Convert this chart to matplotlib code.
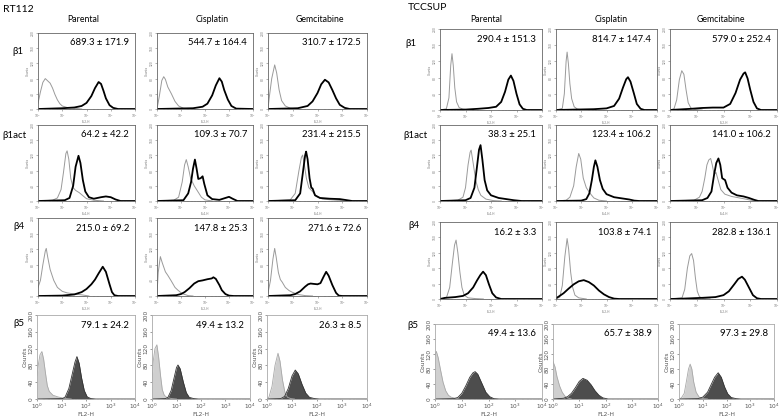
import numpy as np
import matplotlib
matplotlib.use("Agg")
import matplotlib.pyplot as plt
from matplotlib.ticker import LogLocator, NullFormatter, FixedLocator

# ---- labels ----
row_names = ["β1", "β1act", "β4", "β5"]
treatments = ["Parental", "Cisplatin", "Gemcitabine"]
x_names = ["FL2-H", "FL4-H", "FL2-H", "FL2-H"]
y_ticks = [0, 40, 80, 120, 160, 200]

rt112_stats = [
    ["689.3 ± 171.9", "544.7 ± 164.4", "310.7 ± 172.5"],
    ["64.2 ± 42.2", "109.3 ± 70.7", "231.4 ± 215.5"],
    ["215.0 ± 69.2", "147.8 ± 25.3", "271.6 ± 72.6"],
    ["79.1 ± 24.2", "49.4 ± 13.2", "26.3 ± 8.5"],
]
tccsup_stats = [
    ["290.4 ± 151.3", "814.7 ± 147.4", "579.0 ± 252.4"],
    ["38.3 ± 25.1", "123.4 ± 106.2", "141.0 ± 106.2"],
    ["16.2 ± 3.3", "103.8 ± 74.1", "282.8 ± 136.1"],
    ["49.4 ± 13.6", "65.7 ± 38.9", "97.3 ± 29.8"],
]

# ---- histogram outlines: (log10 FL, counts) ----
# RT112
rt112_b1_ctrl = [
    [(0, 15), (0.1, 45), (0.2, 70), (0.3, 80), (0.4, 74), (0.5, 68), (0.6, 55), (0.7, 38), (0.8, 24), (0.9, 14), (1.0, 8), (1.2, 4), (1.5, 2), (1.8, 0)],
    [(0, 0), (0.1, 35), (0.2, 75), (0.28, 85), (0.35, 78), (0.45, 58), (0.6, 40), (0.75, 20), (0.9, 8), (1.1, 2), (1.4, 0)],
    [(0, 0), (0.05, 30), (0.15, 80), (0.27, 116), (0.35, 95), (0.45, 50), (0.55, 22), (0.7, 8), (0.9, 2), (1.2, 0)],
]
rt112_b1_stain = [
    [(0, 0), (1.0, 2), (1.5, 4), (1.8, 8), (2.0, 16), (2.2, 34), (2.35, 55), (2.5, 71), (2.6, 66), (2.7, 48), (2.8, 28), (2.95, 10), (3.1, 3), (3.3, 0), (4, 0)],
    [(0, 0), (1.5, 2), (1.9, 6), (2.1, 14), (2.3, 36), (2.45, 62), (2.6, 81), (2.7, 72), (2.8, 50), (2.95, 25), (3.1, 8), (3.3, 1), (4, 0)],
    [(0, 0), (1.2, 2), (1.6, 8), (1.8, 20), (2.0, 42), (2.15, 65), (2.3, 77), (2.45, 70), (2.6, 50), (2.75, 28), (2.9, 11), (3.1, 3), (3.3, 0), (4, 0)],
]
rt112_b1act_ctrl = [
    [(0, 0), (0.6, 2), (0.8, 8), (0.95, 30), (1.05, 75), (1.15, 125), (1.2, 132), (1.27, 110), (1.35, 60), (1.45, 35), (1.55, 28), (1.7, 22), (1.85, 14), (2.0, 6), (2.3, 2), (2.7, 0)],
    [(0, 0), (0.7, 2), (0.9, 10), (1.05, 50), (1.15, 95), (1.22, 109), (1.3, 90), (1.4, 60), (1.55, 40), (1.7, 25), (1.85, 10), (2.0, 3), (2.3, 0)],
    [(0, 0), (0.9, 3), (1.1, 20), (1.25, 80), (1.35, 115), (1.4, 121), (1.47, 95), (1.55, 60), (1.65, 35), (1.8, 25), (1.95, 12), (2.2, 5), (2.6, 3), (3.0, 1), (3.3, 0)],
]
rt112_b1act_stain = [
    [(0, 0), (1.1, 2), (1.3, 8), (1.45, 40), (1.55, 90), (1.67, 119), (1.75, 100), (1.85, 55), (1.95, 25), (2.1, 10), (2.3, 6), (2.6, 10), (2.8, 12), (3.0, 10), (3.2, 4), (3.4, 0), (4, 0)],
    [(0, 0), (1.1, 2), (1.3, 20), (1.42, 50), (1.5, 85), (1.58, 109), (1.65, 85), (1.72, 58), (1.82, 60), (1.9, 65), (1.97, 45), (2.1, 15), (2.3, 5), (2.6, 3), (2.85, 8), (3.0, 11), (3.15, 6), (3.35, 0), (4, 0)],
    [(0, 0), (1.1, 2), (1.3, 20), (1.42, 80), (1.5, 120), (1.54, 130), (1.6, 110), (1.68, 60), (1.75, 35), (1.8, 33), (1.9, 15), (2.1, 8), (2.5, 6), (2.9, 5), (3.2, 2), (3.4, 0), (4, 0)],
]
rt112_b4_ctrl = [
    [(0, 22), (0.1, 40), (0.2, 80), (0.3, 115), (0.34, 122), (0.4, 100), (0.5, 68), (0.65, 40), (0.8, 22), (1.0, 12), (1.2, 8), (1.5, 5), (1.8, 3), (2.1, 0)],
    [(0, 5), (0.05, 60), (0.14, 101), (0.22, 85), (0.35, 62), (0.45, 53), (0.6, 38), (0.75, 22), (0.87, 15), (1.05, 6), (1.3, 1), (1.5, 0)],
    [(0, 8), (0.1, 40), (0.2, 95), (0.27, 122), (0.33, 100), (0.42, 60), (0.5, 42), (0.57, 36), (0.7, 22), (0.85, 14), (0.97, 10), (1.2, 4), (1.5, 1), (1.8, 0)],
]
rt112_b4_stain = [
    [(0, 0), (1.0, 1), (1.5, 4), (1.8, 10), (2.0, 18), (2.2, 30), (2.35, 42), (2.5, 58), (2.67, 75), (2.8, 62), (2.95, 30), (3.05, 10), (3.15, 2), (3.3, 0), (4, 0)],
    [(0, 0), (0.8, 2), (1.0, 5), (1.15, 10), (1.35, 20), (1.55, 32), (1.72, 38), (1.9, 40), (2.1, 43), (2.28, 45), (2.35, 48), (2.45, 44), (2.6, 28), (2.7, 15), (2.85, 5), (3.0, 1), (3.2, 0), (4, 0)],
    [(0, 0), (0.9, 2), (1.1, 5), (1.3, 12), (1.5, 24), (1.62, 30), (1.72, 32), (1.85, 31), (2.0, 30), (2.12, 33), (2.25, 50), (2.35, 62), (2.45, 52), (2.6, 28), (2.75, 8), (2.86, 1), (3.0, 0), (4, 0)],
]
rt112_b5_ctrl = [
    [(0, 55), (0.05, 80), (0.12, 105), (0.2, 113), (0.27, 95), (0.35, 60), (0.42, 32), (0.5, 18), (0.65, 9), (0.85, 5), (1.0, 3), (1.2, 1), (1.4, 0)],
    [(0, 40), (0.05, 90), (0.12, 120), (0.2, 129), (0.27, 100), (0.35, 55), (0.42, 22), (0.5, 9), (0.6, 4), (0.8, 1), (1.0, 0)],
    [(0, 0), (0.08, 5), (0.2, 30), (0.32, 80), (0.44, 109), (0.52, 90), (0.62, 45), (0.72, 15), (0.82, 4), (0.95, 1), (1.1, 0)],
]
rt112_b5_stain = [
    [(0, 0), (1.05, 1), (1.15, 5), (1.3, 25), (1.42, 55), (1.55, 88), (1.63, 101), (1.72, 85), (1.82, 50), (1.93, 20), (2.05, 5), (2.2, 1), (2.4, 0), (4, 0)],
    [(0, 0), (0.55, 1), (0.65, 4), (0.78, 20), (0.9, 50), (1.0, 75), (1.06, 81), (1.15, 72), (1.28, 40), (1.4, 15), (1.52, 4), (1.7, 1), (1.9, 0), (4, 0)],
    [(0, 0), (0.55, 1), (0.7, 6), (0.85, 25), (1.0, 55), (1.13, 69), (1.25, 60), (1.4, 35), (1.55, 14), (1.7, 4), (1.9, 1), (2.1, 0), (4, 0)],
]

# TCCSUP
tccsup_b1_ctrl = [
    [(0, 0), (0.25, 3), (0.35, 30), (0.42, 110), (0.47, 139), (0.52, 110), (0.58, 55), (0.65, 20), (0.75, 6), (0.9, 2), (1.2, 0)],
    [(0, 0), (0.25, 4), (0.33, 40), (0.4, 120), (0.44, 143), (0.49, 115), (0.55, 65), (0.62, 28), (0.72, 8), (0.85, 2), (1.1, 0)],
    [(0, 0), (0.15, 3), (0.25, 25), (0.35, 75), (0.44, 97), (0.52, 88), (0.6, 50), (0.68, 18), (0.78, 5), (0.95, 1), (1.2, 0)],
]
tccsup_b1_stain = [
    [(0, 0), (1.0, 1), (1.5, 3), (1.9, 5), (2.2, 8), (2.4, 20), (2.55, 45), (2.68, 75), (2.78, 85), (2.88, 72), (3.0, 40), (3.12, 14), (3.25, 3), (3.4, 0), (4, 0)],
    [(0, 0), (1.5, 2), (2.0, 4), (2.3, 10), (2.5, 28), (2.65, 55), (2.78, 76), (2.85, 81), (2.95, 70), (3.08, 42), (3.2, 15), (3.35, 3), (3.5, 0), (4, 0)],
    [(0, 0), (0.8, 3), (1.2, 5), (1.6, 6), (2.0, 6), (2.25, 15), (2.45, 42), (2.62, 75), (2.75, 90), (2.81, 93), (2.9, 78), (3.0, 50), (3.12, 20), (3.25, 4), (3.4, 0), (4, 0)],
]
tccsup_b1act_ctrl = [
    [(0, 0), (0.7, 2), (0.9, 10), (1.0, 35), (1.1, 95), (1.18, 128), (1.22, 134), (1.3, 100), (1.4, 55), (1.5, 30), (1.6, 15), (1.8, 5), (2.1, 1), (2.4, 0)],
    [(0, 0), (0.4, 2), (0.55, 10), (0.7, 40), (0.8, 90), (0.9, 125), (0.98, 110), (1.08, 60), (1.2, 35), (1.35, 20), (1.5, 8), (1.7, 2), (2.0, 0)],
    [(0, 0), (0.9, 2), (1.1, 10), (1.2, 25), (1.3, 60), (1.38, 95), (1.45, 108), (1.52, 112), (1.58, 95), (1.65, 70), (1.72, 75), (1.8, 55), (1.9, 30), (2.05, 18), (2.3, 12), (2.6, 8), (2.9, 4), (3.1, 1), (3.3, 0)],
]
tccsup_b1act_stain = [
    [(0, 0), (1.0, 2), (1.2, 8), (1.35, 35), (1.45, 90), (1.53, 135), (1.59, 147), (1.66, 110), (1.75, 55), (1.85, 28), (2.0, 15), (2.3, 8), (2.6, 5), (2.9, 2), (3.2, 0), (4, 0)],
    [(0, 0), (1.0, 1), (1.2, 5), (1.32, 20), (1.42, 55), (1.5, 90), (1.56, 107), (1.64, 90), (1.74, 55), (1.85, 32), (2.0, 18), (2.3, 10), (2.6, 7), (2.9, 4), (3.1, 1), (3.3, 0), (4, 0)],
    [(0, 0), (1.2, 2), (1.4, 8), (1.55, 25), (1.65, 70), (1.73, 100), (1.81, 112), (1.88, 95), (1.95, 60), (2.06, 55), (2.15, 35), (2.3, 22), (2.5, 15), (2.75, 12), (2.95, 8), (3.15, 3), (3.3, 0), (4, 0)],
]
tccsup_b4_ctrl = [
    [(0, 0), (0.25, 3), (0.38, 30), (0.48, 90), (0.57, 140), (0.63, 153), (0.7, 120), (0.78, 70), (0.86, 30), (0.95, 10), (1.1, 3), (1.4, 1), (1.7, 0)],
    [(0, 0), (0.15, 5), (0.25, 35), (0.35, 110), (0.44, 157), (0.5, 130), (0.58, 70), (0.66, 30), (0.75, 10), (0.9, 3), (1.2, 0)],
    [(0, 0), (0.45, 3), (0.55, 25), (0.65, 80), (0.74, 112), (0.81, 118), (0.88, 100), (0.95, 55), (1.02, 20), (1.1, 6), (1.25, 1), (1.5, 0)],
]
tccsup_b4_stain = [
    [(0, 0), (0.2, 3), (0.6, 5), (0.9, 8), (1.1, 15), (1.3, 30), (1.45, 48), (1.58, 62), (1.69, 71), (1.8, 62), (1.92, 38), (2.05, 15), (2.2, 4), (2.4, 0), (4, 0)],
    [(0, 2), (0.1, 6), (0.3, 15), (0.5, 27), (0.7, 38), (0.9, 46), (1.1, 49), (1.3, 44), (1.5, 35), (1.7, 22), (1.9, 12), (2.1, 5), (2.3, 1), (2.5, 0), (4, 0)],
    [(0, 0), (0.5, 1), (1.2, 3), (1.7, 5), (2.0, 10), (2.2, 20), (2.4, 38), (2.55, 52), (2.69, 58), (2.8, 50), (2.95, 30), (3.1, 10), (3.25, 2), (3.4, 0), (4, 0)],
]
tccsup_b5_ctrl = [
    [(0, 115), (0.05, 127), (0.12, 110), (0.2, 80), (0.3, 45), (0.4, 22), (0.5, 10), (0.6, 5), (0.75, 2), (0.9, 0)],
    [(0, 100), (0.08, 85), (0.15, 60), (0.25, 35), (0.35, 18), (0.45, 8), (0.55, 3), (0.7, 0)],
    [(0, 0), (0.1, 3), (0.22, 15), (0.32, 50), (0.4, 80), (0.47, 93), (0.54, 80), (0.62, 45), (0.72, 18), (0.85, 5), (1.0, 1), (1.2, 0)],
]
tccsup_b5_stain = [
    [(0, 0), (0.7, 1), (0.85, 4), (1.0, 15), (1.15, 35), (1.3, 58), (1.42, 70), (1.5, 73), (1.6, 66), (1.75, 42), (1.9, 18), (2.05, 6), (2.2, 1), (2.4, 0), (4, 0)],
    [(0, 0), (0.4, 2), (0.55, 6), (0.7, 15), (0.85, 30), (1.0, 47), (1.14, 55), (1.3, 50), (1.45, 38), (1.6, 22), (1.75, 10), (1.9, 3), (2.1, 0), (4, 0)],
    [(0, 0), (0.8, 1), (1.0, 5), (1.2, 18), (1.35, 38), (1.5, 58), (1.65, 70), (1.78, 58), (1.92, 32), (2.05, 14), (2.2, 4), (2.4, 1), (2.6, 0), (4, 0)],
]

W, H = 782, 417
LATO = ["Lato", "DejaVu Sans"]


def px_axes(fig, x0, x1, y0, y1):
    return fig.add_axes([x0 / W, 1 - y1 / H, (x1 - x0) / W, (y1 - y0) / H])


def px_text(fig, x, y, s, size, ha="left"):
    fig.text(x / W, 1 - y / H, s, fontsize=size, ha=ha, va="center", family=LATO)


def style_axes(ax, row, big):
    ax.set_xscale("log")
    ax.set_xlim(1, 1e4)
    ax.set_ylim(0, 200)
    ax.yaxis.set_major_locator(FixedLocator(y_ticks))
    ax.xaxis.set_major_locator(LogLocator(base=10, numticks=5))
    ax.xaxis.set_minor_locator(LogLocator(base=10, subs=np.arange(2, 10), numticks=5))
    ax.xaxis.set_minor_formatter(NullFormatter())
    fs = 4.2 if big else 2.2
    col = "#555555" if big else "#777777"
    for s in ax.spines.values():
        s.set_color("#aaaaaa" if big else "#666666")
        s.set_linewidth(0.6)
    ax.tick_params(axis="both", which="major", labelsize=fs, length=1.5, width=0.4,
                   pad=0.8, colors=col, direction="out")
    ax.tick_params(axis="x", which="minor", length=0.8, width=0.3, colors=col)
    for lab in ax.get_yticklabels():
        lab.set_rotation(90)
        lab.set_va("center")
    ax.set_ylabel("Counts", fontsize=fs, color=col, labelpad=0.5)
    ax.set_xlabel(x_names[row], fontsize=fs, color=col, labelpad=0.3)


def draw_group(boxes, rows_y, ctrl_rows, stain_rows, stats):
    for r in range(4):
        big = r == 3
        for c in range(3):
            x0, x1 = boxes[r][c]
            y0, y1 = rows_y[r]
            ax = px_axes(fig, x0, x1, y0, y1)
            ctrl = np.array(ctrl_rows[r][c], dtype=float)
            stain = np.array(stain_rows[r][c], dtype=float)
            if big:
                ax.fill_between(10 ** ctrl[:, 0], ctrl[:, 1], color="#cfcfcf", lw=0)
                ax.plot(10 ** ctrl[:, 0], ctrl[:, 1], color="#a8a8a8", lw=0.6)
                ax.fill_between(10 ** stain[:, 0], stain[:, 1], color="#4d4d4d", lw=0)
                ax.plot(10 ** stain[:, 0], stain[:, 1], color="#333333", lw=0.6)
            else:
                ax.plot(10 ** ctrl[:, 0], ctrl[:, 1], color="#9a9a9a", lw=0.7)
                ax.plot(10 ** stain[:, 0], stain[:, 1], color="black", lw=1.3)
            ax.text(0.94, 0.87, stats[r][c], transform=ax.transAxes, ha="right",
                    va="center", fontsize=6.8, family=LATO)
            style_axes(ax, r, big)


fig = plt.figure(figsize=(W / 100, H / 100), dpi=100)

# RT112 block
left_boxes = [
    [(38, 135), (157, 253), (268, 367)],
    [(38, 135), (157, 253), (268, 367)],
    [(38, 135), (157, 253), (268, 367)],
    [(37, 135), (152, 250), (267, 367)],
]
left_rows = [(33, 109), (125, 201), (218, 296), (315, 399)]
draw_group(left_boxes, left_rows,
           [rt112_b1_ctrl, rt112_b1act_ctrl, rt112_b4_ctrl, rt112_b5_ctrl],
           [rt112_b1_stain, rt112_b1act_stain, rt112_b4_stain, rt112_b5_stain],
           rt112_stats)

# TCCSUP block
right_boxes = [
    [(440, 542), (556, 657), (670, 777)],
    [(440, 542), (556, 657), (670, 777)],
    [(440, 542), (556, 657), (670, 777)],
    [(435, 542), (553, 658), (679, 774)],
]
right_rows = [(29, 110), (125, 201), (222, 299), (324, 399)]
draw_group(right_boxes, right_rows,
           [tccsup_b1_ctrl, tccsup_b1act_ctrl, tccsup_b4_ctrl, tccsup_b5_ctrl],
           [tccsup_b1_stain, tccsup_b1act_stain, tccsup_b4_stain, tccsup_b5_stain],
           tccsup_stats)

# headers
px_text(fig, 3, 9, "RT112", 7.5)
px_text(fig, 408, 8, "TCCSUP", 7.5)
for name, xc in zip(treatments, [83, 212, 320]):
    px_text(fig, xc, 20, name, 6.3, ha="center")
for name, xc in zip(treatments, [486, 611, 721]):
    px_text(fig, xc, 20, name, 6.3, ha="center")

left_label_pos = [(12, 52), (2, 135), (13, 227), (13, 324)]
right_label_pos = [(405, 44), (403, 135), (408, 225), (407, 325)]
for name, (lx, ly) in zip(row_names, left_label_pos):
    px_text(fig, lx, ly, name, 7)
for name, (lx, ly) in zip(row_names, right_label_pos):
    px_text(fig, lx, ly, name, 7)

fig.savefig("out.png", dpi=100)
